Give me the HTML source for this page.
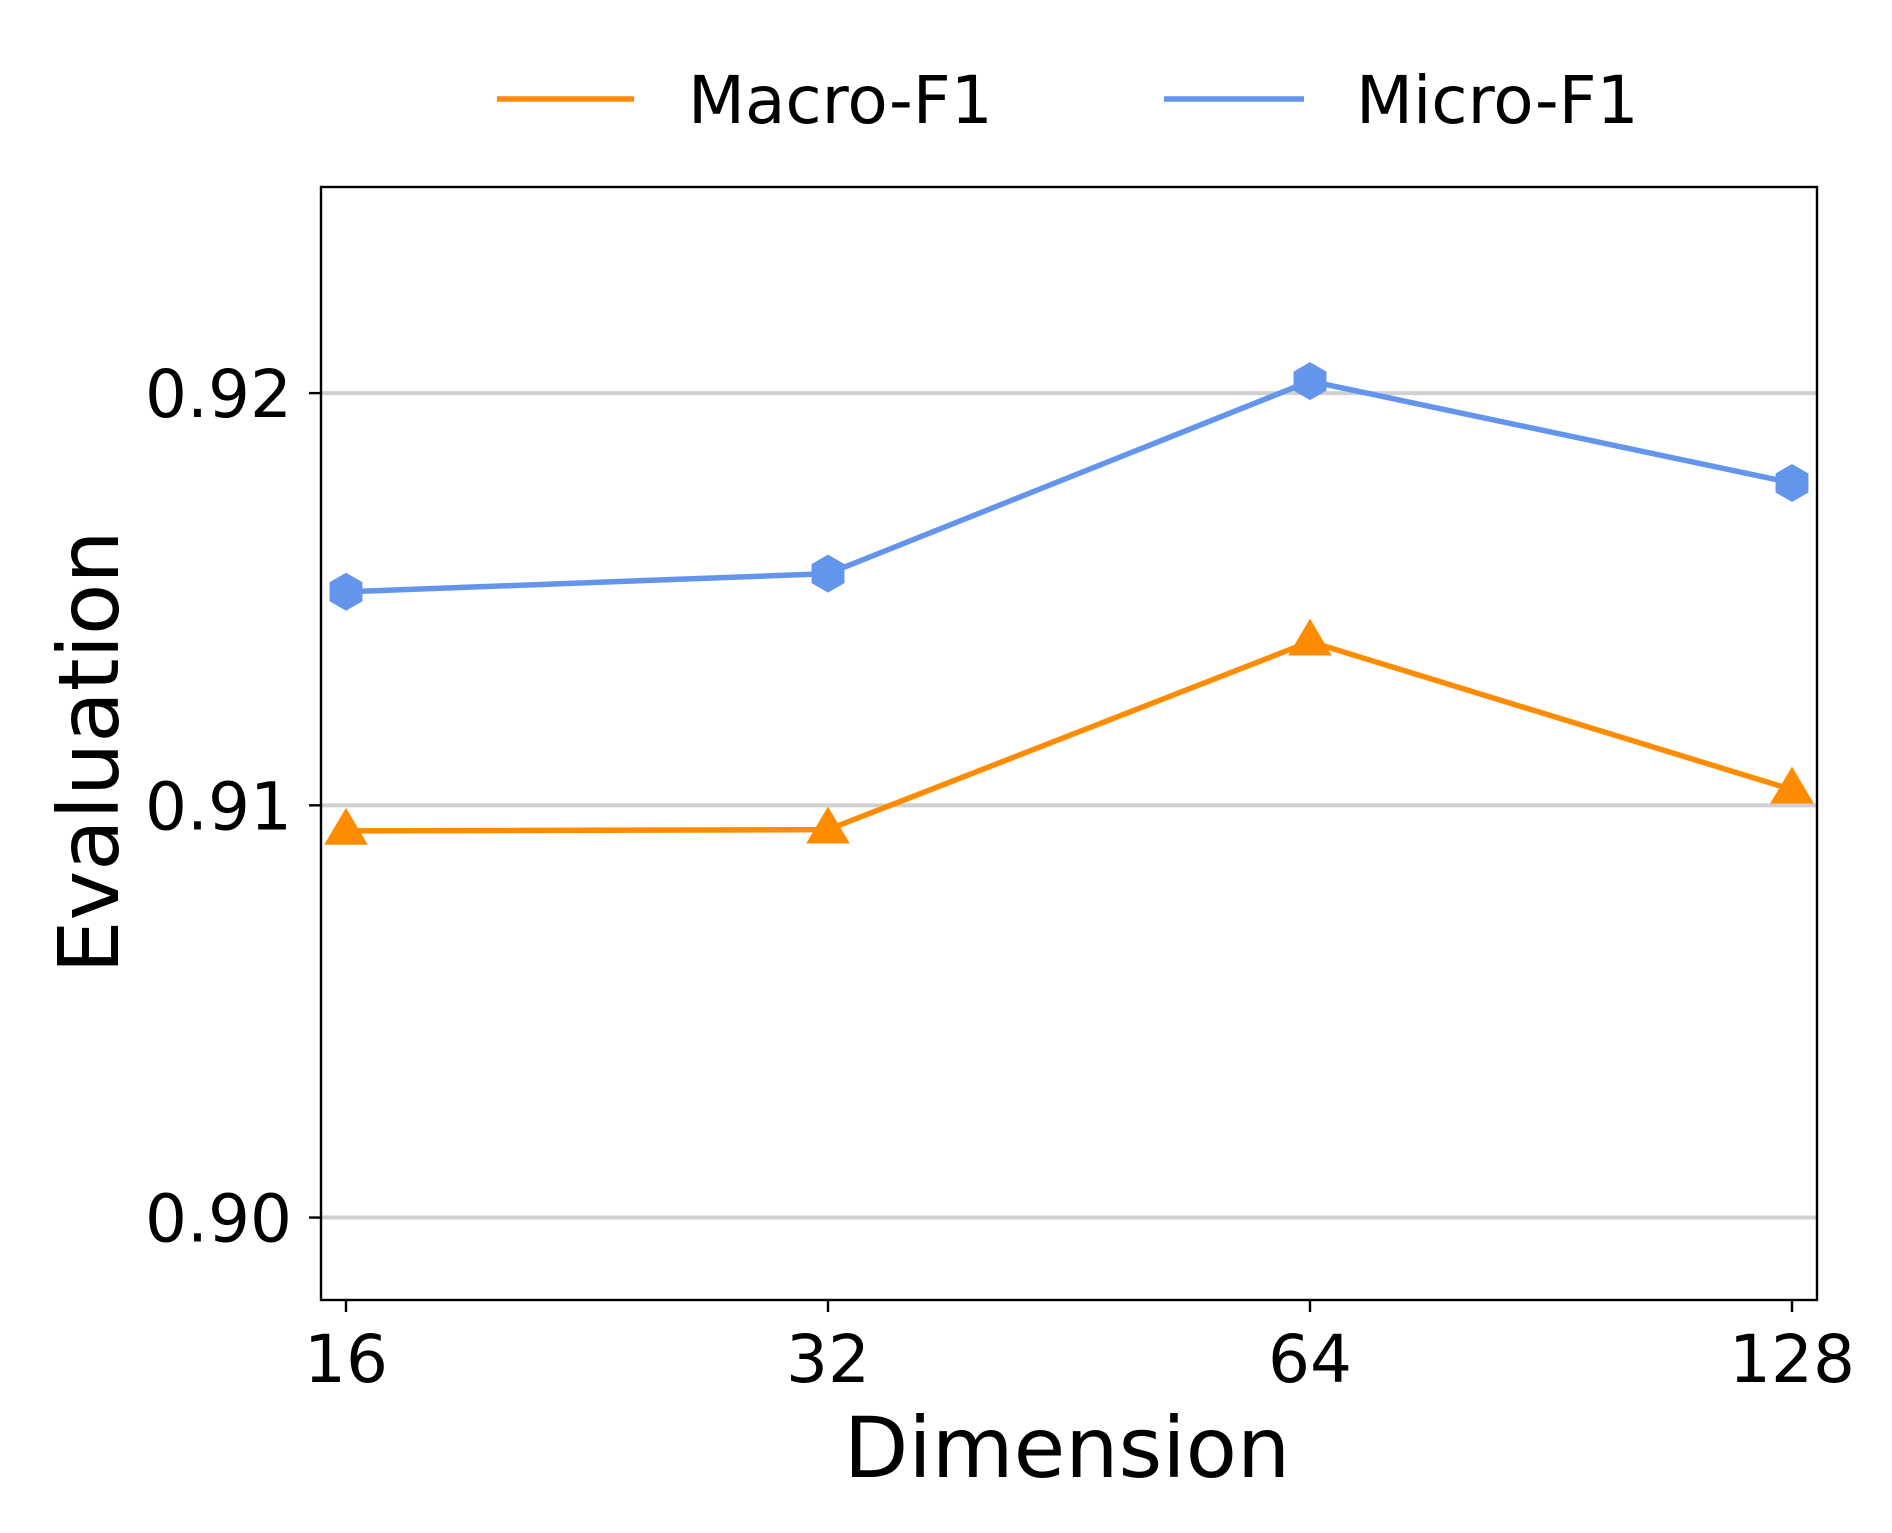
<!DOCTYPE html>
<html><head><meta charset="utf-8"><style>
html,body{margin:0;padding:0;background:#fff;}
svg{display:block;font-family:"DejaVu Sans","Liberation Sans",sans-serif;}
</style></head><body>
<svg id="chart" width="1892" height="1533" viewBox="0 0 1892 1533" xmlns="http://www.w3.org/2000/svg">
<g id="grid"></g>
<g id="series"></g>
<rect x="321" y="187" width="1496" height="1113" fill="none" stroke="#000" stroke-width="2.4"/>
<g id="ticks"></g>
<text x="1067" y="1477" font-size="84" text-anchor="middle">Dimension</text>
<text transform="translate(118,752) rotate(-90)" font-size="84" text-anchor="middle">Evaluation</text>
<g>
<g>
<line x1="497" y1="99" x2="634" y2="99" stroke="#ff8c00" stroke-width="5.5"/>
<text x="688" y="123" font-size="66">Macro-F1</text></g>
<g>
<line x1="1164" y1="99" x2="1304" y2="99" stroke="#6495ed" stroke-width="5.5"/>
<text x="1356" y="123" font-size="66">Micro-F1</text></g>
</g>
</svg>
<script>
const categories = ["16","32","64","128"];
const macroF1 = [0.90938, 0.90941, 0.91397, 0.91038];
const microF1 = [0.91518, 0.91562, 0.92029, 0.91782];
const yTicks = [0.90, 0.91, 0.92];
const yTickLabels = ["0.90","0.91","0.92"];

const NS="http://www.w3.org/2000/svg";
const X0=346, X1=1792, Y_TOP=187, Y_BOT=1300, YMIN=0.898, YMAX=0.925;
function xScale(i){return X0+(X1-X0)*i/(categories.length-1);}
function yScale(v){return Y_BOT-(v-YMIN)/(YMAX-YMIN)*(Y_BOT-Y_TOP);}
function mk(tag,attrs,parent){const e=document.createElementNS(NS,tag);for(const k in attrs)e.setAttribute(k,attrs[k]);parent.appendChild(e);return e;}
const grid=document.getElementById('grid'), ticks=document.getElementById('ticks'), series=document.getElementById('series');

yTicks.forEach((t,i)=>{
  const y=yScale(t);
  const g=mk('line',{x1:321,x2:1817,y1:y,y2:y,stroke:'#d0d0d0','stroke-width':4},grid);
  
  
  const tk=mk('line',{x1:309,x2:321,y1:y,y2:y,stroke:'#000','stroke-width':2.4},ticks);
  
  
  const tl=mk('text',{x:292,y:y+24,'font-size':66,'text-anchor':'end'},ticks);
  tl.textContent=yTickLabels[i];
  
  
});
categories.forEach((c,i)=>{
  const x=xScale(i);
  const tk=mk('line',{x1:x,x2:x,y1:1300,y2:1312,stroke:'#000','stroke-width':2.4},ticks);
  
  
  const tl=mk('text',{x:x,y:1382,'font-size':66,'text-anchor':'middle'},ticks);
  tl.textContent=c;
  
  
});

function drawSeries(vals,color,name,marker){
  const pts=vals.map((v,i)=>[xScale(i),yScale(v)]);
  const pl=mk('polyline',{points:pts.map(p=>p.join(',')).join(' '),fill:'none',stroke:color,'stroke-width':5.5},series);
  
  
  pts.forEach(([x,y])=>{
    let d;
    if(marker==='hex'){const r=19;d=[0,1,2,3,4,5].map(k=>{const a=Math.PI/2+k*Math.PI/3;return (x+r*Math.cos(a))+','+(y-r*Math.sin(a));}).join(' ');}
    else{const r=23;d=`${x},${y-r} ${x+r*0.95},${y+r*0.6} ${x-r*0.95},${y+r*0.6}`;}
    const m=mk('polygon',{points:d,fill:color},series);
    
    
  });
}
drawSeries(macroF1,'#ff8c00','macro-f1','tri');
drawSeries(microF1,'#6495ed','micro-f1','hex');
</script>
</body></html>
